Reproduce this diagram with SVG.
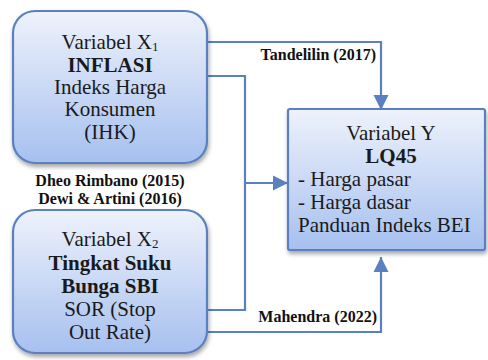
<svg xmlns="http://www.w3.org/2000/svg" width="488" height="360" viewBox="0 0 488 360">
<defs>
<linearGradient id="g" x1="0" y1="0" x2="0" y2="1">
<stop offset="0" stop-color="#eef2fb"/>
<stop offset="1" stop-color="#a6c0ef"/>
</linearGradient>
<filter id="sh" x="-10%" y="-10%" width="125%" height="130%">
<feDropShadow dx="1" dy="3" stdDeviation="2" flood-color="#000" flood-opacity="0.35"/>
</filter>
<marker id="ah" viewBox="0 0 10 10" refX="10" refY="5" markerWidth="7" markerHeight="7" orient="auto" markerUnits="strokeWidth">
<path d="M0,0 L10,5 L0,10 Z" fill="#5a80c0"/>
</marker>
<style>
.box{fill:url(#g);stroke:#5a80c0;stroke-width:2.2;filter:url(#sh)}
text{font-family:'Liberation Serif','DejaVu Serif',serif}
.t{font-size:21px;fill:#1a1a1a;text-anchor:middle}
.s{font-size:21px;fill:#1a1a1a;text-anchor:start}
.b{font-weight:bold}
.l{font-size:16px;font-weight:bold;fill:#111}
.e{text-anchor:end}
.m{text-anchor:middle}
.c{fill:none;stroke:#5a80c0;stroke-width:2.2}
</style>
</defs>
<g id="connectors">
<path class="c" d="M207,42 H381 V110" marker-end="url(#ah)"/>
<path class="c" d="M207,76 H245 V310 H207"/>
<path class="c" d="M245,183 H288" marker-end="url(#ah)"/>
<path class="c" d="M207,332 H381 V257" marker-end="url(#ah)"/>
<text class="l e" x="376" y="60">Tandelilin (2017)</text>
<text class="l m" x="110" y="186">Dheo Rimbano (2015)</text>
<text class="l m" x="110" y="204">Dewi &amp; Artini (2016)</text>
<text class="l e" x="377" y="322">Mahendra (2022)</text>
</g>
<g id="x1">
<rect class="box" x="13" y="11" width="194" height="152" rx="22"/>
<text class="t" x="110" y="49">Variabel X<tspan font-size="13" dy="2">1</tspan></text>
<text class="t b" x="110" y="72">INFLASI</text>
<text class="t" x="110" y="94">Indeks Harga</text>
<text class="t" x="110" y="116">Konsumen</text>
<text class="t" x="110" y="139">(IHK)</text>
</g>
<g id="x2">
<rect class="box" x="13" y="210" width="194" height="143" rx="22"/>
<text class="t" x="110" y="246">Variabel X<tspan font-size="13" dy="2">2</tspan></text>
<text class="t b" x="110" y="270">Tingkat Suku</text>
<text class="t b" x="110" y="293">Bunga SBI</text>
<text class="t" x="110" y="316">SOR (Stop</text>
<text class="t" x="110" y="339">Out Rate)</text>
</g>
<g id="y">
<rect class="box" x="288" y="109" width="197" height="141" rx="2"/>
<text class="t" x="391" y="140">Variabel Y</text>
<text class="t b" x="391" y="163">LQ45</text>
<text class="s" x="298" y="186">- Harga pasar</text>
<text class="s" x="298" y="209">- Harga dasar</text>
<text class="s" x="298" y="232">Panduan Indeks BEI</text>
</g>
</svg>
